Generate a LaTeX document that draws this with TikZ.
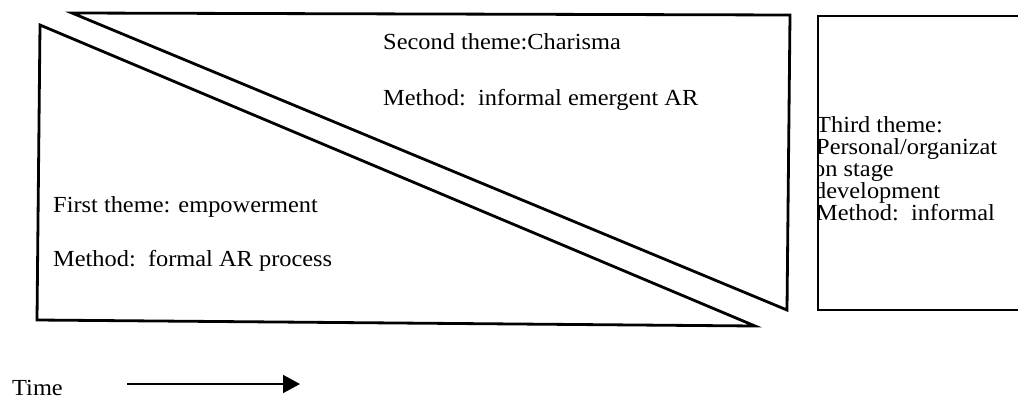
\documentclass[tikz,border=0pt]{standalone}
\usepackage{fontspec}
\setmainfont[FakeStretch=1.06]{Liberation Serif}
\usetikzlibrary{arrows.meta}
\begin{document}
\begin{tikzpicture}[x=1pt,y=-1pt,
  shapeline/.style={line width=2.8pt, line join=miter},
  lbl/.style={font=\fontsize{23}{23}\selectfont, inner sep=0pt, anchor=base west}]
\useasboundingbox (0,0) rectangle (1018,399);
\clip (0,0) rectangle (1018,399);
% first theme (lower triangle)
\draw[shapeline] (40,25) -- (37,320) -- (755,326) -- cycle;
% second theme (upper triangle)
\draw[shapeline] (72,13) -- (790,15) -- (787,310) -- cycle;
% texts
\node[lbl] (second) at (383,49) {Second theme:Charisma};
\node[lbl] (secondm) at (383,105) {Method:\ \ informal emergent AR};
\node[lbl] (first) at (53,212) {First theme: empowerment};
\node[lbl] (firstm) at (53,266) {Method:\ \ formal AR process};
% third theme box text (clipped)
\begin{scope}
\clip (818,0) rectangle (1018,399);
\node[lbl] (t1) at (816,132) {Third theme:};
\node[lbl] (t2) at (816,154) {Personal/organizat};
\node[lbl] (t3) at (813,176) {on stage};
\node[lbl] (t4) at (814,198) {development};
\node[lbl] (t5) at (816,220) {Method:\ \ informal};
\end{scope}
\draw[shapeline] (1030,16) -- (818,16) -- (818,310) -- (1030,310);
% time arrow
\node[lbl] (time) at (12,395) {Time};
\coordinate (ts) at (127,384);
\coordinate (te) at (300,384);
\draw[line width=1.8pt, -{Triangle[length=17pt,width=18pt]}] (ts) -- (te);
\end{tikzpicture}
\end{document}
